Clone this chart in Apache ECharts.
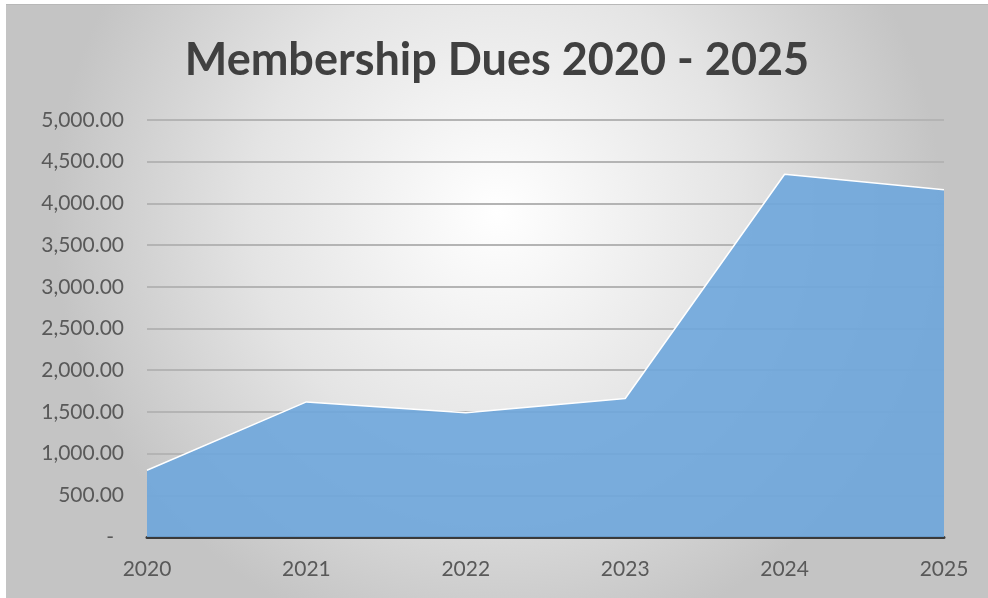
<!DOCTYPE html>
<html>
<head>
<meta charset="utf-8">
<script src="https://cdn.jsdelivr.net/npm/echarts@6/dist/echarts.min.js"></script>
<style>
  html, body { margin: 0; padding: 0; background: #fff; }
  #main {
    margin-left: 6px;
    margin-top: 4px;
    width: 982px;
    height: 593px;
    border-top: 1px solid #b8b8b8;
  }
</style>
</head>
<body>
<div id="main"></div>
<script>
var years = ['2020', '2021', '2022', '2023', '2024', '2025'];
var dues = [800, 1620, 1490, 1660, 4350, 4165];

var chart = echarts.init(document.getElementById('main'));

// excel accounting style: zero shown as a dash
function fmtMoney(v) {
  if (v === 0) return '{d|-}';
  return v.toLocaleString('en-US', { minimumFractionDigits: 2, maximumFractionDigits: 2 });
}

var option = {
  backgroundColor: new echarts.graphic.RadialGradient(0.5, 0.35, 0.75, [
    { offset: 0, color: '#ffffff' },
    { offset: 0.55, color: '#e4e4e4' },
    { offset: 1, color: '#c4c4c4' }
  ]),
  title: {
    text: 'Membership Dues 2020 - 2025',
    left: 'center',
    top: 28,
    textStyle: {
      fontFamily: 'Lato',
      fontWeight: 'bold',
      fontSize: 45,
      color: '#404040'
    }
  },
  grid: {
    left: 141,
    right: 44,
    top: 115,
    bottom: 61
  },
  xAxis: {
    type: 'category',
    boundaryGap: false,
    data: years,
    axisLine: { lineStyle: { color: '#3a3a3a', width: 3 } },
    axisTick: { show: false },
    axisLabel: {
      margin: 22,
      fontFamily: 'Lato',
      fontSize: 21,
      color: '#595959'
    }
  },
  yAxis: {
    type: 'value',
    min: 0,
    max: 5000,
    interval: 500,
    axisLine: { show: false },
    axisTick: { show: false },
    axisLabel: {
      margin: 23,
      fontFamily: 'Lato',
      fontSize: 21,
      color: '#595959',
      formatter: fmtMoney,
      rich: {
        d: { fontFamily: 'Lato', fontSize: 21, color: '#595959', padding: [0, 10, 0, 0] }
      }
    },
    splitLine: { lineStyle: { color: '#b4b4b4', width: 2 } }
  },
  series: [
    {
      name: 'Dues',
      type: 'line',
      data: dues,
      symbol: 'none',
      lineStyle: { color: '#ffffff', width: 1.5 },
      areaStyle: { color: '#6ea6dc', opacity: 0.9 }
    }
  ]
};

chart.setOption(option);
</script>
</body>
</html>
